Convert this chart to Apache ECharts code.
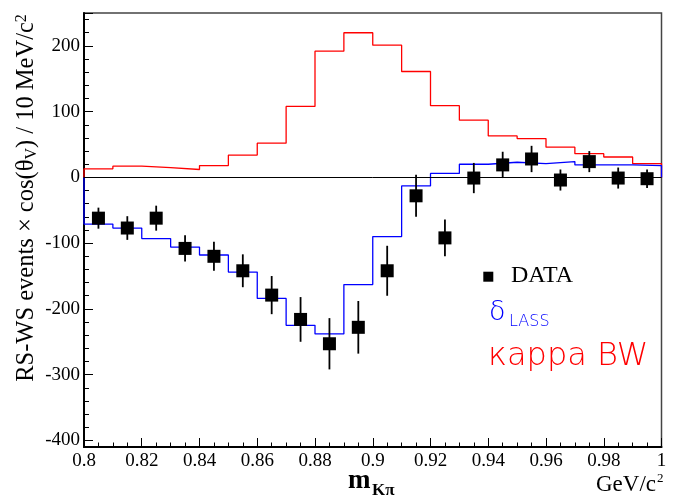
<!DOCTYPE html>
<html>
<head>
<meta charset="utf-8">
<script src="https://cdn.jsdelivr.net/npm/echarts@6/dist/echarts.min.js"></script>
<style>
  html, body { margin: 0; padding: 0; background: #fff; }
  #chart { width: 675px; height: 499px; }
</style>
</head>
<body>
<div id="chart"></div>
<script>
// bin centres of m(Kpi), 10 MeV/c2 bins
var binCenters = [0.805, 0.815, 0.825, 0.835, 0.845, 0.855, 0.865, 0.875, 0.885, 0.895,
                  0.905, 0.915, 0.925, 0.935, 0.945, 0.955, 0.965, 0.975, 0.985, 0.995];
var halfBin = 0.005;
// data points and their errors
var dataValues = [-62, -77, -62, -108, -120, -142, -179, -216, -253, -228,
                  -142, -28, -92, -1, 19, 28, -4, 24, -1, -2];
var dataErrors = [16, 18, 19, 20, 22, 25, 29, 34, 39, 40,
                  38, 32, 28, 23, 20, 20, 16, 16, 16, 14];
// delta LASS prediction
var lassValues = [-71, -77, -93, -106, -118, -144, -184, -225, -238, -163,
                  -90, -13, 6, 20, 23, 21, 24, 19, 19, 18];
// kappa BW prediction
var kappaValues = [13, 17, 15, 12, 18, 34, 52, 108, 192, 220,
                   201, 161, 109, 87, 63, 59, 46, 36, 31, 21];

var serif = "'Liberation Serif', 'DejaVu Serif', serif";
var sans = "'DejaVu Sans', 'Noto Sans', sans-serif";

/****** histogram outline from bin values ******/
function histPoints(values) {
	var last = values.length - 1;
	var pts = [[binCenters[0] - halfBin, 0]];
	for (var i = 0; i < values.length; i++) {
		pts.push([binCenters[i] - halfBin, values[i]]);
	}
	pts.push([binCenters[last] + halfBin, values[last]]);
	pts.push([binCenters[last] + halfBin, 0]);
	return pts;
}

var points = binCenters.map(function (x, i) { return [x, dataValues[i], dataErrors[i]]; });

var myChart = echarts.init(document.getElementById("chart"));
var option = {
	animation: false,
	backgroundColor: "#fff",
	grid: [{
		left: 84, right: 13.5, top: 13, bottom: 52,
		show: true, borderColor: "#444", borderWidth: 1.5,
		containLabel: false, outerBoundsMode: "none"
	}, {
		left: 84, right: 13.5, top: 13, bottom: 58.6,
		containLabel: false, outerBoundsMode: "none"
	}],
	xAxis: [{
		type: "value", gridIndex: 0,
		min: 0.8, max: 1.0, interval: 0.02,
		axisLine: { show: true, onZero: false, lineStyle: { color: "#000", width: 2 } },
		axisTick: { show: true, inside: true, length: 9, lineStyle: { color: "#000", width: 1 } },
		minorTick: { show: true, splitNumber: 4, length: 4.5, lineStyle: { color: "#000", width: 1 } },
		splitLine: { show: false },
		axisLabel: {
			color: "#000", fontFamily: serif, fontSize: 19, margin: 5,
			formatter: function (v) { return String(parseFloat(v.toFixed(2))); }
		}
	}, {
		type: "value", gridIndex: 1, min: 0.8, max: 1.0, show: false
	}],
	yAxis: [{
		type: "value", gridIndex: 0,
		min: -410, max: 250,
		axisLine: { show: true, onZero: false, lineStyle: { color: "#000", width: 2 } },
		axisTick: { show: false },
		axisLabel: { show: false },
		splitLine: { show: false }
	}, {
		type: "value", gridIndex: 1,
		min: -400, max: 250, interval: 100,
		axisLine: { show: false },
		axisTick: { show: true, inside: true, length: 9, lineStyle: { color: "#000", width: 1 } },
		minorTick: { show: true, splitNumber: 5, length: 5, lineStyle: { color: "#000", width: 1 } },
		splitLine: { show: false },
		axisLabel: {
			color: "#000", fontFamily: serif, fontSize: 19, margin: 4,
			showMaxLabel: false,
			formatter: function (v) { return v % 100 === 0 ? String(v) : ""; }
		}
	}],
	series: [{
		name: "kappa BW",
		type: "line",
		step: "end",
		symbol: "none",
		sampling: "none",
		data: histPoints(kappaValues),
		lineStyle: { color: "#ff0000", width: 1.3 },
		markLine: {
			silent: true, symbol: "none", label: { show: false },
			lineStyle: { color: "#000", width: 1, type: "solid" },
			data: [{ yAxis: 0 }]
		},
		z: 3
	}, {
		name: "LASS",
		type: "line",
		step: "end",
		symbol: "none",
		sampling: "none",
		data: histPoints(lassValues),
		lineStyle: { color: "#0000ff", width: 1.3 },
		z: 3
	}, {
		name: "errors",
		type: "custom",
		data: points,
		encode: { x: 0, y: 1 },
		renderItem: function (params, api) {
			var x = api.value(0), v = api.value(1), e = api.value(2);
			var top = api.coord([x, v + e]);
			var bot = api.coord([x, v - e]);
			return {
				type: "line",
				shape: { x1: top[0], y1: top[1], x2: bot[0], y2: bot[1] },
				style: { stroke: "#000", lineWidth: 1.8 }
			};
		},
		z: 4
	}, {
		name: "DATA",
		type: "scatter",
		symbol: "rect",
		symbolSize: 13,
		data: points,
		encode: { x: 0, y: 1 },
		itemStyle: { color: "#000", opacity: 1 },
		z: 5
	}],
	graphic: [
		{ type: "rect", shape: { x: 483.3, y: 271.7, width: 10, height: 10 }, style: { fill: "#000" } },
		{ type: "text", x: 511, y: 276, style: { text: "DATA", fill: "#000", font: "24px " + serif, verticalAlign: "middle" } },
		{ type: "text", x: 489, y: 313, style: { text: "δ", fill: "#0000ff", font: "200 27px " + sans, verticalAlign: "middle" } },
		{ type: "text", x: 509, y: 322, style: { text: "LASS", fill: "#0000ff", font: "200 16px " + sans, verticalAlign: "middle" } },
		{ type: "text", x: 488, y: 357, style: { text: "κappa BW", fill: "#ff0000", font: "200 32px " + sans, verticalAlign: "middle" } },
		{ type: "text", x: 348, y: 481, style: { text: "m", fill: "#000", font: "bold 27px " + serif, verticalAlign: "middle" } },
		{ type: "text", x: 372, y: 491, style: { text: "Kπ", fill: "#000", font: "bold 17px " + serif, verticalAlign: "middle" } },
		{ type: "text", x: 596, y: 485, style: { text: "GeV/c", fill: "#000", font: "23px " + serif, verticalAlign: "middle" } },
		{ type: "text", x: 657, y: 479, style: { text: "2", fill: "#000", font: "13px " + serif, verticalAlign: "middle" } },
		{
			type: "text", x: 27, y: 198, rotation: Math.PI / 2,
			style: {
				text: "RS-WS events × cos(θ{sub|V}) / 10 MeV/c{sup|2}",
				fill: "#000", font: "24.5px " + serif, align: "center", verticalAlign: "middle",
				rich: {
					sub: { fontFamily: serif, fontSize: 16, fill: "#000", padding: [10, 0, 0, 0] },
					sup: { fontFamily: serif, fontSize: 16, fill: "#000", padding: [0, 0, 11, 0] }
				}
			}
		}
	]
};
myChart.setOption(option);
</script>
</body>
</html>
